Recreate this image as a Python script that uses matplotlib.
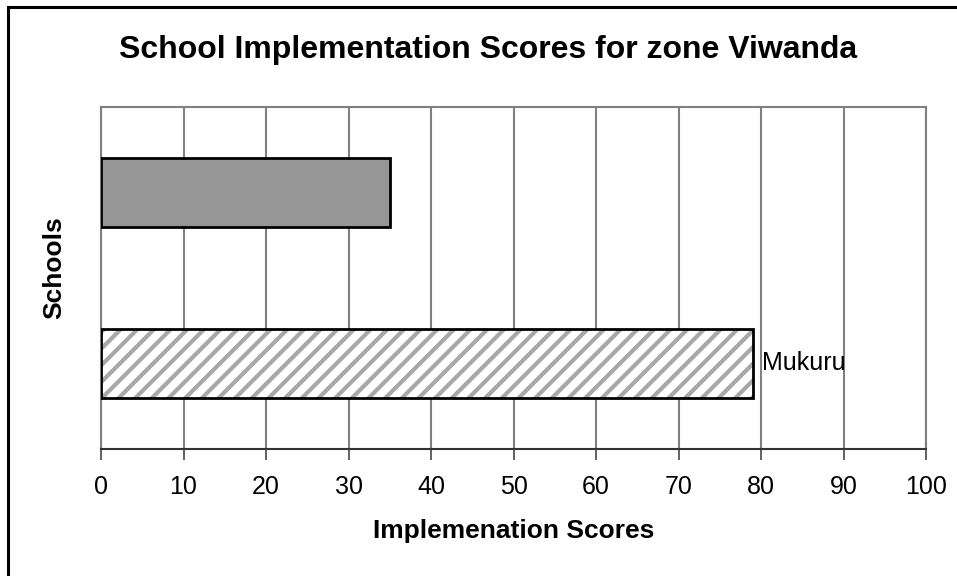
import matplotlib
matplotlib.use("Agg")
import matplotlib.pyplot as plt
from matplotlib.patches import Rectangle

plt.rcParams['font.family'] = ['Liberation Sans', 'DejaVu Sans']
plt.rcParams['hatch.linewidth'] = 3.0

schools = ["Mukuru", ""]
scores = [79, 35]
colors = ["white", "#969696"]
hatches = ["//", ""]
labels = ["Mukuru", ""]
xticks = list(range(0, 101, 10))

W, H = 957, 576
fig = plt.figure(figsize=(W / 100, H / 100), dpi=100)
fig.patch.set_facecolor("white")

# outer chart border (right & bottom edges fall outside the image)
fig.patches.append(Rectangle((8 / W, -0.1), 1.2, 1 - 7 / H + 0.1, transform=fig.transFigure,
                             fill=False, edgecolor="black", linewidth=2.2, zorder=0))

ax = fig.add_axes([101 / W, (H - 449) / H, (926 - 101) / W, (449 - 107) / H])
ypos = list(range(len(schools)))
# fill + hatch (hatch colour follows edgecolor)
fills = ax.barh(ypos, scores, height=0.4, color=colors, edgecolor="#a8a8a8",
                linewidth=0, zorder=3)
for b, h in zip(fills, hatches):
    if h:
        b.set_hatch(h)
# black outlines
bars = ax.barh(ypos, scores, height=0.4, fill=False, edgecolor="black", linewidth=2, zorder=4)
for b, lab in zip(bars, labels):
    if lab:
        ax.text(b.get_width() + 1.1, b.get_y() + b.get_height() / 2, lab,
                va="center", ha="left", fontsize=18, zorder=5)

ax.set_xlim(0, 100)
ax.set_ylim(-0.5, 1.5)
ax.set_xticks(xticks)
ax.set_xticklabels([str(t) for t in xticks], fontsize=18)
ax.set_yticks([])
ax.grid(axis="x", color="#808080", linewidth=1.5, zorder=0)
for s in ["top", "right", "left"]:
    ax.spines[s].set_color("#808080")
    ax.spines[s].set_linewidth(1.5)
ax.spines["bottom"].set_color("#333333")
ax.spines["bottom"].set_linewidth(1.5)
ax.tick_params(axis="x", direction="out", length=8, width=1.3, color="#555555", pad=11)

ax.set_xlabel("Implemenation Scores", fontsize=19, fontweight="bold", labelpad=14)
fig.text(54 / W, 1 - 268 / H, "Schools", rotation=90, ha="center", va="center",
         fontsize=19, fontweight="bold")
fig.text(488 / W, 1 - 50 / H, "School Implementation Scores for zone Viwanda",
         ha="center", va="center", fontsize=23, fontweight="bold")

fig.savefig("out.png", dpi=100, facecolor="white")
